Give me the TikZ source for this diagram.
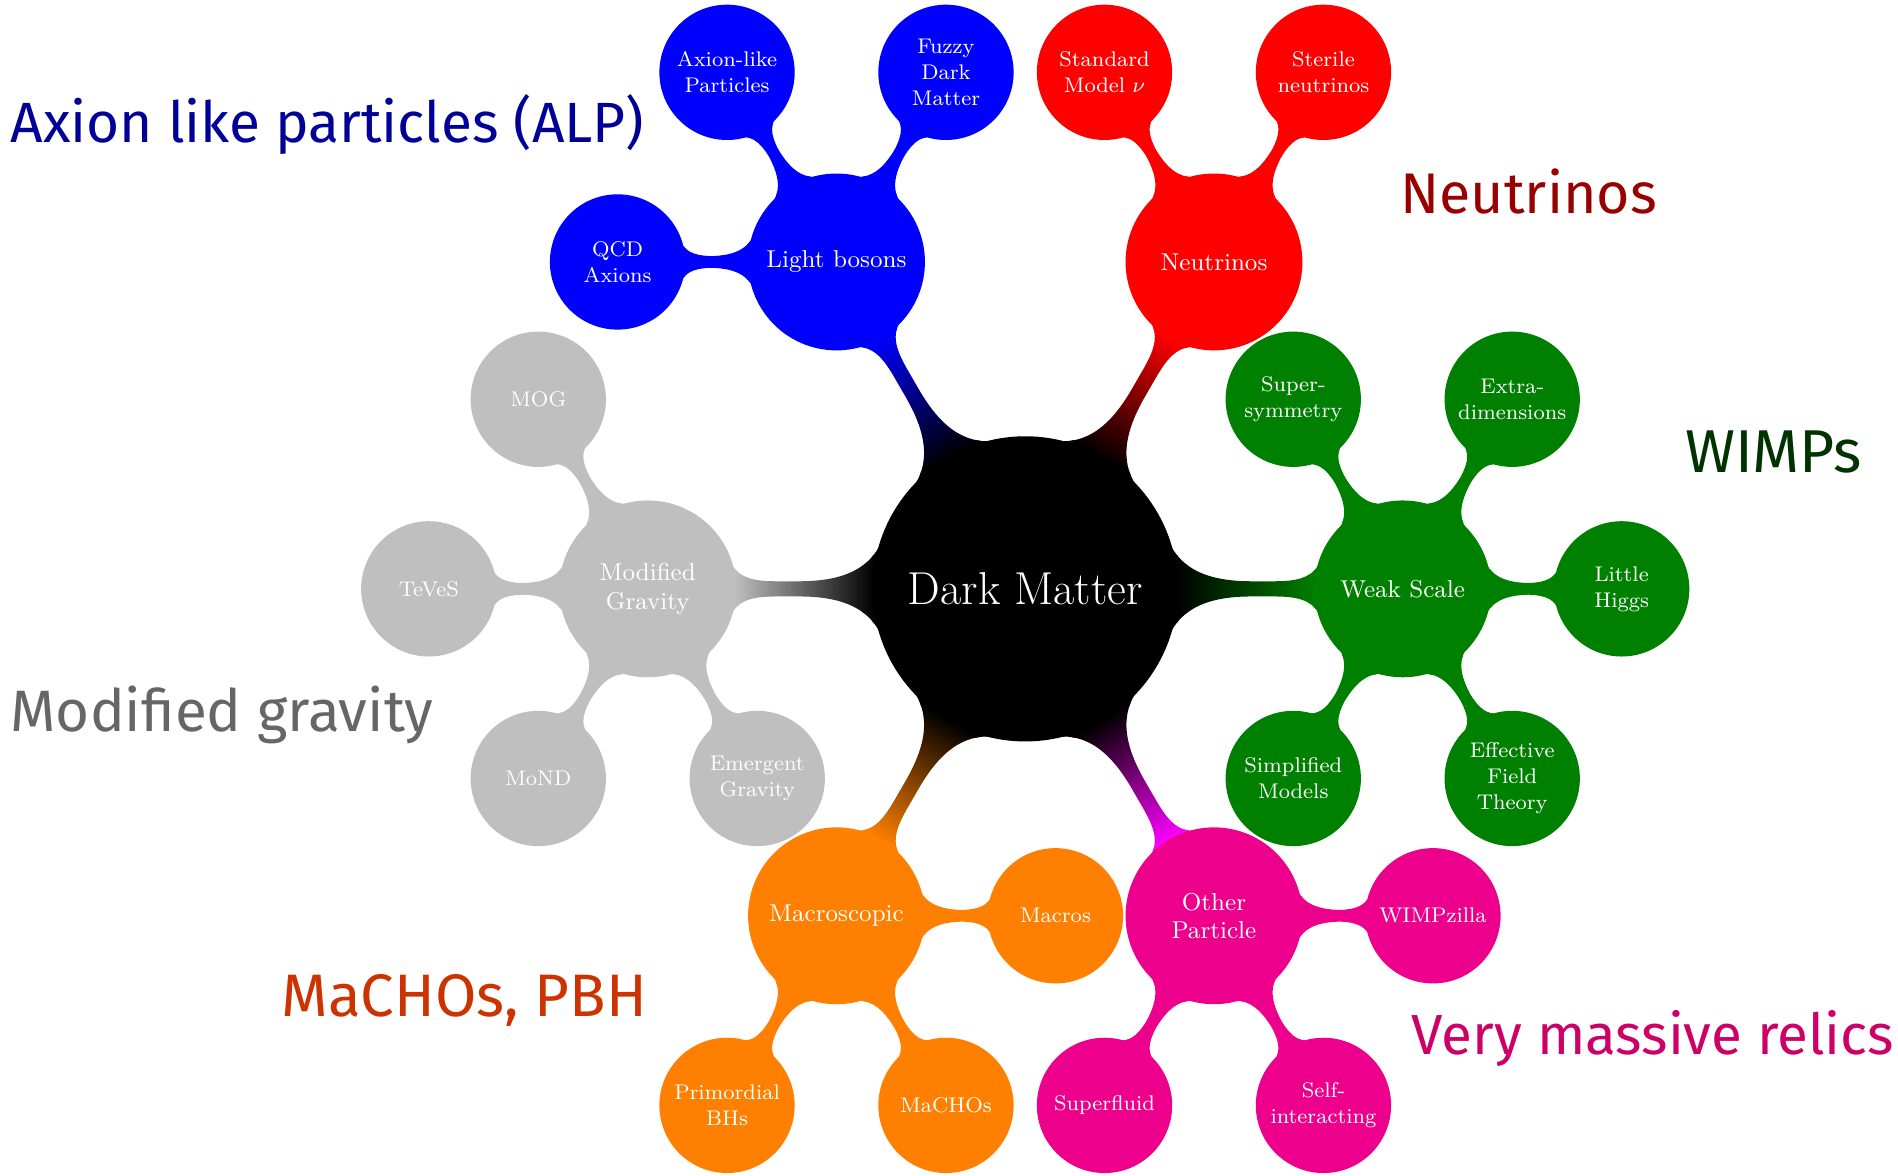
\documentclass[tikz,border=0pt]{standalone}
\usepackage{fontspec}
\newfontfamily\labelfont{Fira Sans}
\usetikzlibrary{mindmap,calc,backgrounds}

\definecolor{alpblue}{HTML}{000099}
\definecolor{nured}{HTML}{990000}
\definecolor{wimpgreen}{HTML}{003300}
\definecolor{gravgray}{HTML}{666666}
\definecolor{machored}{HTML}{CC3300}
\definecolor{relicpink}{HTML}{CC0066}
\definecolor{pinkbar}{HTML}{EC008C}

\tikzset{
  bigcon/.style={concept,circle,minimum size=4cm,text width=,inner sep=1pt,align=center,text=white,
    font=\fontsize{17.4}{20}\selectfont},
  midcon/.style={concept,circle,minimum size=2.3cm,text width=,inner sep=1pt,align=center,text=white,
    font=\fontsize{9.2}{10.6}\selectfont},
  smallcon/.style={concept,circle,minimum size=1.75cm,text width=,inner sep=1pt,align=center,text=white,
    font=\fontsize{8}{9.8}\selectfont},
  barone/.style={line width=0.36cm},
  bartwo/.style={line width=0.26cm},
  tag/.style={anchor=base west,text width=,minimum size=0pt,inner sep=0pt,
    font=\labelfont\fontsize{#1}{24}\selectfont},
  tag/.default=21.6
}

\begin{document}
\begin{tikzpicture}[mindmap]
  \useasboundingbox (-13.58,-7.77) rectangle (11.56,7.80);
  \node[bigcon,concept color=black] (dm) at (0,0) {Dark Matter};

  % first ring
  \node[midcon,concept color=blue] (lb) at (120:5) {Light bosons};
  \node[midcon,concept color=red] (nu) at (60:5) {Neutrinos};
  \node[midcon,concept color=green!50!black] (ws) at (0:5) {Weak Scale};
  \node[midcon,concept color=magenta] (op) at (-60:5) {Other\\Particle};
  \node[midcon,concept color=orange] (mac) at (-120:5) {Macroscopic};
  \node[midcon,concept color=lightgray] (mg) at (180:5) {Modified\\Gravity};

  % second ring
  \node[smallcon,concept color=blue] (qcd) at ($(lb)+(180:2.9)$) {QCD\\Axions};
  \node[smallcon,concept color=blue] (alp) at ($(lb)+(120:2.9)$) {Axion-like\\Particles};
  \node[smallcon,concept color=blue] (fdm) at ($(lb)+(60:2.9)$) {Fuzzy\\Dark\\Matter};

  \node[smallcon,concept color=red] (smnu) at ($(nu)+(120:2.9)$) {Standard\\Model $\nu$};
  \node[smallcon,concept color=red] (stnu) at ($(nu)+(60:2.9)$) {Sterile\\neutrinos};

  \node[smallcon,concept color=green!50!black] (susy) at ($(ws)+(120:2.9)$) {Super-\\symmetry};
  \node[smallcon,concept color=green!50!black] (xdim) at ($(ws)+(60:2.9)$) {Extra-\\dimensions};
  \node[smallcon,concept color=green!50!black] (lh) at ($(ws)+(0:2.9)$) {Little\\Higgs};
  \node[smallcon,concept color=green!50!black] (eft) at ($(ws)+(-60:2.9)$) {Effective\\Field\\Theory};
  \node[smallcon,concept color=green!50!black] (simp) at ($(ws)+(-120:2.9)$) {Simplified\\Models};

  \node[smallcon,concept color=magenta] (wz) at ($(op)+(0:2.9)$) {WIMPzilla};
  \node[smallcon,concept color=magenta] (self) at ($(op)+(-60:2.9)$) {Self-\\interacting};
  \node[smallcon,concept color=magenta] (sf) at ($(op)+(-120:2.9)$) {Superfluid};

  \node[smallcon,concept color=orange] (macro) at ($(mac)+(0:2.9)$) {Macros};
  \node[smallcon,concept color=orange] (macho) at ($(mac)+(-60:2.9)$) {MaCHOs};
  \node[smallcon,concept color=orange] (pbh) at ($(mac)+(-120:2.9)$) {Primordial\\BHs};

  \node[smallcon,concept color=lightgray] (mog) at ($(mg)+(120:2.9)$) {MOG};
  \node[smallcon,concept color=lightgray] (teves) at ($(mg)+(180:2.9)$) {TeVeS};
  \node[smallcon,concept color=lightgray] (mond) at ($(mg)+(240:2.9)$) {MoND};
  \node[smallcon,concept color=lightgray] (emg) at ($(mg)+(300:2.9)$) {Emergent\\Gravity};

  % bars behind the circles
  \begin{pgfonlayer}{background}
    \path[barone] (dm) to[circle connection bar switch color=from (black) to (blue)] (lb);
    \path[barone] (dm) to[circle connection bar switch color=from (black) to (red)] (nu);
    \path[barone] (dm) to[circle connection bar switch color=from (black) to (green!50!black)] (ws);
    \path[barone] (dm) to[circle connection bar switch color=from (black) to (magenta)] (op);
    \path[barone] (dm) to[circle connection bar switch color=from (black) to (orange)] (mac);
    \path[barone] (dm) to[circle connection bar switch color=from (black) to (lightgray)] (mg);

    \foreach \k in {qcd,alp,fdm}
      \path[bartwo] (lb) to[circle connection bar switch color=from (blue) to (blue)] (\k);
    \foreach \k in {smnu,stnu}
      \path[bartwo] (nu) to[circle connection bar switch color=from (red) to (red)] (\k);
    \foreach \k in {susy,xdim,lh,eft,simp}
      \path[bartwo] (ws) to[circle connection bar switch color=from (green!50!black) to (green!50!black)] (\k);
    \foreach \k in {wz,self,sf}
      \path[bartwo] (op) to[circle connection bar switch color=from (pinkbar) to (pinkbar)] (\k);
    \foreach \k in {macro,macho,pbh}
      \path[bartwo] (mac) to[circle connection bar switch color=from (orange) to (orange)] (\k);
    \foreach \k in {mog,teves,mond,emg}
      \path[bartwo] (mg) to[circle connection bar switch color=from (lightgray) to (lightgray)] (\k);
  \end{pgfonlayer}

  % class labels
  \node[tag=21.4,text=alpblue] (alptag) at (-13.44,5.91) {Axion like particles (ALP)};
  \node[tag=21.6,text=nured] (nutag) at (4.97,4.97) {Neutrinos};
  \node[tag=22.8,text=wimpgreen] (wimptag) at (8.74,1.54) {WIMPs};
  \node[tag=22.0,text=gravgray] (gravtag) at (-13.44,-1.89) {Modified gravity};
  \node[tag=22.6,text=machored] (machotag) at (-9.85,-5.67) {MaCHOs, PBH};
  \node[tag=21.3,text=relicpink] (relictag) at (5.12,-6.17) {Very massive relics};
\end{tikzpicture}
\end{document}
